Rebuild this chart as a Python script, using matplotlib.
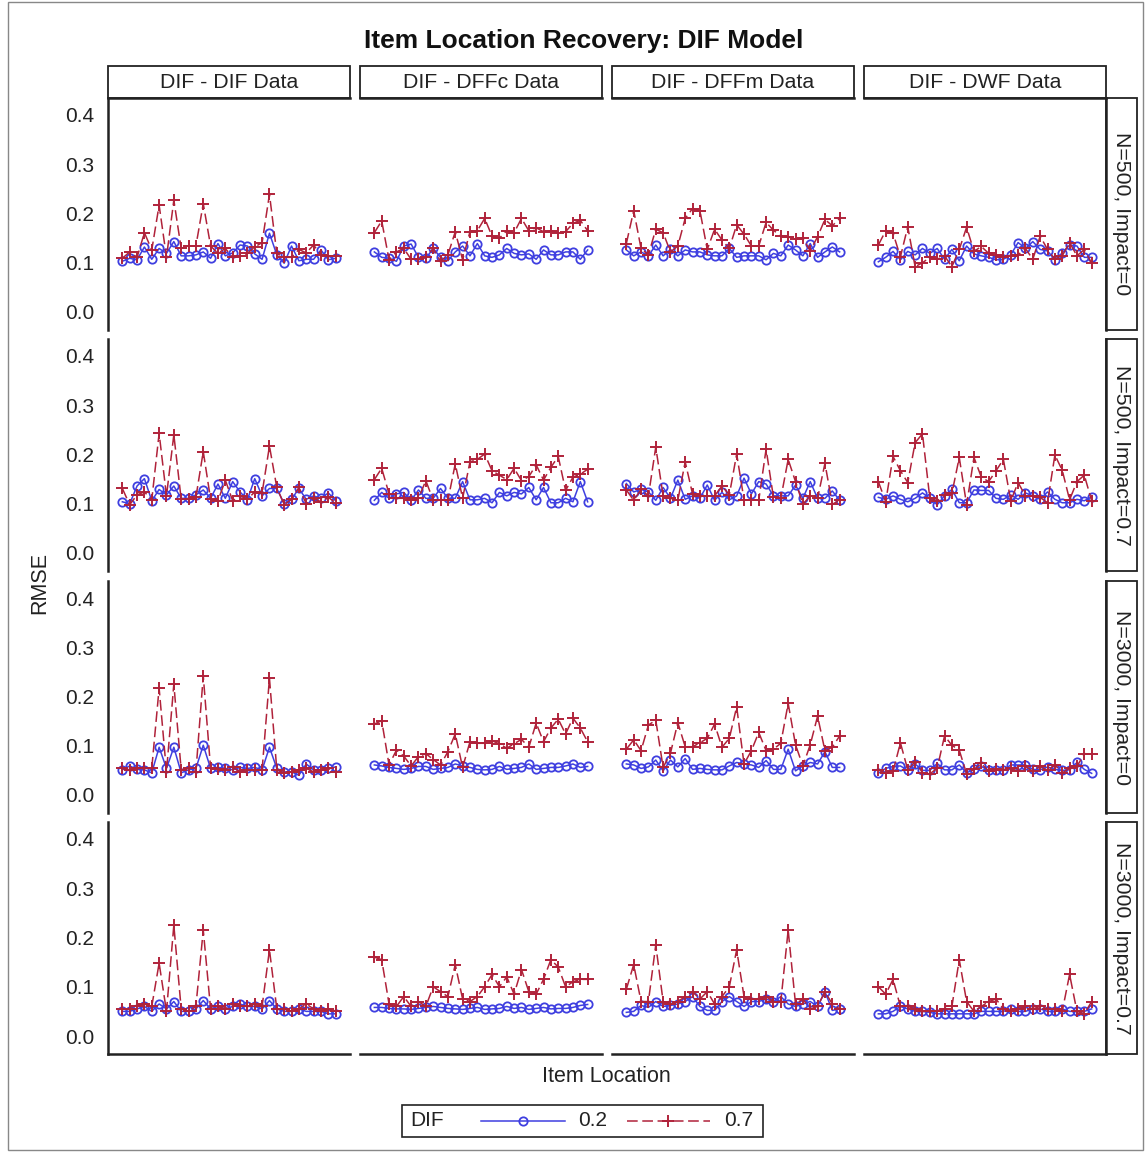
import matplotlib
matplotlib.use("Agg")
import matplotlib.pyplot as plt
from matplotlib.patches import Rectangle
from matplotlib.lines import Line2D
import numpy as np

# ---------------- data ----------------
col_labels = ["DIF - DIF Data", "DIF - DFFc Data", "DIF - DFFm Data", "DIF - DWF Data"]
row_labels = ["N=500, Impact=0", "N=500, Impact=0.7", "N=3000, Impact=0", "N=3000, Impact=0.7"]
y_ticks = [0.0, 0.1, 0.2, 0.3, 0.4]
y_tick_labels = ["0.0", "0.1", "0.2", "0.3", "0.4"]
items = list(range(1, 31))

# Row 1: N=500, Impact=0
r1_dif_02 = [0.103,0.109,0.106,0.132,0.107,0.129,0.119,0.143,0.114,0.114,0.116,0.122,0.109,0.139,0.114,0.120,0.136,0.134,0.118,0.107,0.160,0.116,0.099,0.134,0.104,0.107,0.107,0.126,0.106,0.109]
r1_dif_07 = [0.109,0.122,0.111,0.161,0.126,0.217,0.111,0.227,0.129,0.134,0.134,0.220,0.134,0.119,0.129,0.111,0.114,0.119,0.132,0.141,0.239,0.119,0.111,0.111,0.127,0.120,0.136,0.116,0.114,0.114]
r1_dffc_02 = [0.122,0.111,0.109,0.103,0.134,0.138,0.111,0.109,0.129,0.111,0.104,0.122,0.134,0.114,0.139,0.114,0.111,0.116,0.129,0.119,0.116,0.118,0.107,0.126,0.116,0.116,0.122,0.122,0.107,0.126]
r1_dffc_07 = [0.161,0.185,0.106,0.122,0.129,0.107,0.107,0.111,0.129,0.103,0.116,0.163,0.106,0.163,0.165,0.190,0.154,0.150,0.165,0.161,0.190,0.165,0.171,0.163,0.165,0.161,0.163,0.180,0.186,0.165]
r1_dffm_02 = [0.126,0.114,0.122,0.114,0.136,0.114,0.127,0.114,0.126,0.122,0.122,0.116,0.114,0.114,0.129,0.111,0.114,0.114,0.114,0.106,0.119,0.114,0.136,0.126,0.114,0.139,0.111,0.122,0.132,0.122]
r1_dffm_07 = [0.139,0.206,0.129,0.116,0.168,0.161,0.122,0.134,0.190,0.210,0.206,0.127,0.168,0.146,0.129,0.177,0.158,0.134,0.134,0.182,0.166,0.154,0.152,0.148,0.150,0.124,0.153,0.188,0.175,0.190]
r1_dwf_02 = [0.102,0.111,0.123,0.106,0.123,0.116,0.129,0.119,0.129,0.107,0.127,0.104,0.134,0.118,0.114,0.111,0.106,0.107,0.116,0.141,0.129,0.143,0.127,0.124,0.106,0.120,0.136,0.134,0.111,0.111]
r1_dwf_07 = [0.136,0.165,0.160,0.112,0.173,0.092,0.100,0.111,0.107,0.114,0.092,0.127,0.172,0.123,0.133,0.119,0.116,0.111,0.114,0.116,0.129,0.107,0.154,0.127,0.107,0.114,0.141,0.114,0.127,0.099]

# Row 2: N=500, Impact=0.7
r2_dif_02 = [0.104,0.100,0.136,0.151,0.106,0.129,0.118,0.136,0.111,0.111,0.118,0.128,0.111,0.140,0.111,0.145,0.124,0.108,0.151,0.116,0.131,0.131,0.100,0.109,0.131,0.109,0.116,0.111,0.122,0.106]
r2_dif_07 = [0.131,0.098,0.118,0.124,0.108,0.243,0.116,0.240,0.109,0.109,0.113,0.206,0.109,0.106,0.148,0.106,0.116,0.109,0.124,0.122,0.217,0.133,0.098,0.109,0.133,0.100,0.111,0.104,0.113,0.102]
r2_dffc_02 = [0.107,0.123,0.111,0.120,0.123,0.107,0.128,0.111,0.111,0.131,0.111,0.111,0.145,0.108,0.108,0.111,0.102,0.123,0.116,0.123,0.120,0.133,0.108,0.133,0.102,0.102,0.111,0.104,0.145,0.104]
r2_dffc_07 = [0.149,0.172,0.120,0.111,0.111,0.107,0.111,0.147,0.107,0.107,0.107,0.181,0.111,0.185,0.190,0.201,0.167,0.158,0.149,0.172,0.147,0.155,0.179,0.148,0.174,0.196,0.127,0.154,0.160,0.170]
r2_dffm_02 = [0.141,0.124,0.129,0.124,0.107,0.133,0.111,0.148,0.109,0.116,0.111,0.138,0.107,0.123,0.108,0.116,0.152,0.120,0.145,0.140,0.116,0.116,0.116,0.138,0.111,0.145,0.111,0.111,0.126,0.107]
r2_dffm_07 = [0.128,0.107,0.129,0.116,0.215,0.116,0.111,0.107,0.185,0.120,0.116,0.116,0.116,0.136,0.118,0.201,0.108,0.108,0.107,0.211,0.113,0.111,0.190,0.145,0.099,0.116,0.111,0.182,0.099,0.107]
r2_dwf_02 = [0.113,0.109,0.116,0.109,0.104,0.111,0.122,0.111,0.098,0.116,0.129,0.102,0.102,0.128,0.127,0.127,0.111,0.109,0.118,0.109,0.122,0.116,0.109,0.124,0.109,0.102,0.102,0.109,0.106,0.114]
r2_dwf_07 = [0.145,0.104,0.196,0.167,0.143,0.224,0.242,0.111,0.106,0.118,0.121,0.194,0.098,0.194,0.154,0.145,0.167,0.190,0.106,0.143,0.116,0.116,0.113,0.102,0.199,0.168,0.108,0.145,0.158,0.106]

# Row 3: N=3000, Impact=0
r3_dif_02 = [0.051,0.059,0.052,0.051,0.045,0.097,0.054,0.097,0.045,0.051,0.054,0.101,0.054,0.056,0.054,0.051,0.056,0.054,0.056,0.051,0.097,0.054,0.047,0.047,0.040,0.063,0.051,0.051,0.054,0.057]
r3_dif_07 = [0.054,0.051,0.054,0.054,0.054,0.217,0.047,0.225,0.051,0.054,0.047,0.242,0.054,0.052,0.051,0.056,0.047,0.051,0.051,0.051,0.237,0.051,0.045,0.047,0.051,0.054,0.047,0.051,0.054,0.047]
r3_dffc_02 = [0.061,0.059,0.056,0.054,0.052,0.054,0.058,0.058,0.052,0.054,0.056,0.063,0.059,0.056,0.052,0.051,0.052,0.058,0.052,0.054,0.056,0.063,0.052,0.054,0.056,0.056,0.059,0.063,0.056,0.058]
r3_dffc_07 = [0.144,0.151,0.061,0.091,0.079,0.059,0.078,0.084,0.072,0.061,0.088,0.124,0.056,0.108,0.105,0.105,0.110,0.104,0.095,0.104,0.113,0.097,0.146,0.108,0.136,0.154,0.124,0.156,0.136,0.108]
r3_dffm_02 = [0.063,0.061,0.054,0.057,0.071,0.049,0.071,0.057,0.074,0.052,0.054,0.052,0.051,0.051,0.059,0.066,0.063,0.061,0.056,0.070,0.052,0.052,0.093,0.049,0.059,0.066,0.063,0.088,0.056,0.056]
r3_dffm_07 = [0.093,0.112,0.090,0.142,0.152,0.056,0.085,0.147,0.098,0.098,0.106,0.115,0.144,0.097,0.115,0.179,0.063,0.090,0.127,0.090,0.093,0.105,0.186,0.102,0.059,0.102,0.160,0.090,0.097,0.120]
r3_dwf_02 = [0.044,0.054,0.058,0.059,0.050,0.063,0.050,0.050,0.064,0.051,0.051,0.061,0.045,0.052,0.058,0.050,0.051,0.050,0.061,0.061,0.061,0.052,0.051,0.057,0.052,0.050,0.051,0.066,0.052,0.044]
r3_dwf_07 = [0.051,0.044,0.048,0.106,0.051,0.068,0.045,0.043,0.054,0.120,0.101,0.091,0.043,0.052,0.064,0.048,0.052,0.051,0.054,0.048,0.058,0.048,0.058,0.050,0.061,0.045,0.054,0.058,0.084,0.083]

# Row 4: N=3000, Impact=0.7
r4_dif_02 = [0.050,0.050,0.055,0.060,0.050,0.065,0.055,0.070,0.050,0.050,0.055,0.072,0.055,0.060,0.055,0.060,0.065,0.060,0.060,0.055,0.072,0.055,0.050,0.050,0.055,0.050,0.050,0.050,0.045,0.045]
r4_dif_07 = [0.055,0.055,0.060,0.065,0.060,0.148,0.050,0.225,0.055,0.050,0.060,0.215,0.055,0.060,0.055,0.065,0.060,0.060,0.065,0.060,0.175,0.055,0.055,0.050,0.055,0.065,0.055,0.050,0.055,0.050]
r4_dffc_02 = [0.058,0.058,0.056,0.055,0.055,0.054,0.056,0.058,0.060,0.058,0.056,0.055,0.054,0.056,0.058,0.054,0.055,0.056,0.060,0.056,0.058,0.054,0.056,0.058,0.055,0.056,0.056,0.058,0.062,0.064]
r4_dffc_07 = [0.160,0.155,0.065,0.060,0.080,0.060,0.070,0.060,0.100,0.090,0.080,0.145,0.075,0.070,0.080,0.100,0.125,0.100,0.120,0.085,0.135,0.090,0.085,0.115,0.155,0.140,0.100,0.110,0.115,0.115]
r4_dffm_02 = [0.048,0.050,0.062,0.058,0.070,0.060,0.062,0.065,0.070,0.080,0.060,0.052,0.052,0.070,0.080,0.070,0.060,0.070,0.070,0.075,0.070,0.080,0.065,0.060,0.065,0.070,0.060,0.090,0.052,0.055]
r4_dffm_07 = [0.095,0.145,0.070,0.070,0.185,0.070,0.065,0.070,0.080,0.090,0.075,0.090,0.065,0.080,0.100,0.175,0.080,0.075,0.075,0.080,0.070,0.070,0.215,0.065,0.075,0.055,0.060,0.090,0.065,0.055]
r4_dwf_02 = [0.045,0.045,0.050,0.060,0.055,0.050,0.050,0.048,0.045,0.045,0.045,0.045,0.045,0.045,0.050,0.050,0.050,0.050,0.055,0.050,0.050,0.055,0.055,0.050,0.050,0.055,0.050,0.050,0.050,0.055]
r4_dwf_07 = [0.100,0.085,0.115,0.060,0.060,0.055,0.050,0.050,0.050,0.055,0.060,0.155,0.070,0.050,0.060,0.070,0.075,0.055,0.050,0.055,0.060,0.055,0.060,0.055,0.055,0.050,0.125,0.050,0.045,0.070]

grid_02 = [[r1_dif_02, r1_dffc_02, r1_dffm_02, r1_dwf_02],
           [r2_dif_02, r2_dffc_02, r2_dffm_02, r2_dwf_02],
           [r3_dif_02, r3_dffc_02, r3_dffm_02, r3_dwf_02],
           [r4_dif_02, r4_dffc_02, r4_dffm_02, r4_dwf_02]]
grid_07 = [[r1_dif_07, r1_dffc_07, r1_dffm_07, r1_dwf_07],
           [r2_dif_07, r2_dffc_07, r2_dffm_07, r2_dwf_07],
           [r3_dif_07, r3_dffc_07, r3_dffm_07, r3_dwf_07],
           [r4_dif_07, r4_dffc_07, r4_dffm_07, r4_dwf_07]]

# ---------------- layout ----------------
plt.rcParams['font.family'] = ['Liberation Sans', 'DejaVu Sans']
W, H = 1145, 1152
fig = plt.figure(figsize=(W / 100, H / 100), dpi=100)

BLUE = '#3f3fe0'
RED = '#b0223a'
AXC = '#222222'
TXT = '#222222'

def fx(x):
    return x / W

def fy(y):
    return 1 - y / H

col_x = [108, 360, 612, 864]
col_w = 242
row_y = [98, 339, 581, 822]
row_h = 232
ppx = 0.4 / 197.0
ylo = -(row_h - 214) * ppx
yhi = 0.4 + 17 * ppx

for r in range(4):
    for c in range(4):
        x0, y0 = col_x[c], row_y[r]
        ax = fig.add_axes([fx(x0), fy(y0 + row_h), col_w / W, row_h / H])
        ax.set_facecolor('none')
        ax.plot(items, grid_02[r][c], color=BLUE, lw=1.1, marker='o', ms=6,
                mfc='none', mec=BLUE, mew=1.3)
        ax.plot(items, grid_07[r][c], color=RED, lw=1.1, ls=(0, (7, 3)), marker='+',
                ms=8, mec=RED, mew=1.4)
        ax.set_xlim(1 - 1.95, 30 + 1.95)
        ax.set_ylim(ylo, yhi)
        for s in ax.spines.values():
            s.set_visible(False)
        ax.set_xticks([])
        if c == 0:
            ax.spines['left'].set_visible(True)
            ax.spines['left'].set_linewidth(1.8)
            ax.spines['left'].set_color(AXC)
            ax.set_yticks(y_ticks)
            ax.set_yticklabels(y_tick_labels)
            ax.tick_params(axis='y', length=0, pad=10, labelsize=15, labelcolor=TXT)
        else:
            ax.set_yticks([])
        if r == 3:
            ax.spines['bottom'].set_visible(True)
            ax.spines['bottom'].set_linewidth(1.8)
            ax.spines['bottom'].set_color(AXC)

# column strips
for c in range(4):
    x0 = col_x[c]
    fig.patches.append(Rectangle((fx(x0), fy(98)), col_w / W, 32 / H, transform=fig.transFigure,
                                 fill=False, edgecolor=AXC, lw=1.3))
    fig.add_artist(Line2D([fx(x0), fx(x0 + col_w)], [fy(98), fy(98)], transform=fig.transFigure,
                          color=AXC, lw=1.8))
    fig.text(fx(x0 + col_w / 2), fy(82), col_labels[c], ha='center', va='center',
             fontsize=15.3, color=TXT)

# row strips
for r in range(4):
    y0 = row_y[r]
    fig.patches.append(Rectangle((fx(1106), fy(y0 + row_h)), 31 / W, row_h / H,
                                 transform=fig.transFigure, fill=False, edgecolor=AXC, lw=1.3))
    fig.add_artist(Line2D([fx(1106), fx(1106)], [fy(y0), fy(y0 + row_h)], transform=fig.transFigure,
                          color=AXC, lw=1.8))
    fig.text(fx(1122), fy(y0 + row_h / 2), row_labels[r], ha='center', va='center',
             rotation=270, fontsize=15.3, color=TXT)

# title and axis labels
fig.text(fx(584), fy(41), "Item Location Recovery: DIF Model", ha='center', va='center',
         fontsize=19, fontweight='bold', color='#111111')
fig.text(fx(40), fy(583), "RMSE", ha='center', va='center', rotation=90, fontsize=15.5,
         color=TXT)
fig.text(fx(606), fy(1076), "Item Location", ha='center', va='center', fontsize=15.5,
         color=TXT)

# legend
fig.patches.append(Rectangle((fx(402), fy(1137)), (763 - 402) / W, 32 / H, transform=fig.transFigure,
                             fill=False, edgecolor=AXC, lw=1.2))
fig.text(fx(410), fy(1121), "DIF", ha='left', va='center', fontsize=15, color=TXT)
fig.add_artist(Line2D([fx(481), fx(565)], [fy(1121), fy(1121)], transform=fig.transFigure,
                      color=BLUE, lw=1.1))
fig.add_artist(Line2D([fx(523)], [fy(1121)], transform=fig.transFigure, color=BLUE, marker='o',
                      ms=6, mfc='none', mec=BLUE, mew=1.3, ls='none'))
fig.text(fx(578), fy(1121), "0.2", ha='left', va='center', fontsize=15, color=TXT)
fig.add_artist(Line2D([fx(627), fx(710)], [fy(1121), fy(1121)], transform=fig.transFigure,
                      color=RED, lw=1.1, ls=(0, (7, 3))))
fig.add_artist(Line2D([fx(668)], [fy(1121)], transform=fig.transFigure, color=RED, marker='+',
                      ms=8, mec=RED, mew=1.4, ls='none'))
fig.text(fx(724), fy(1121), "0.7", ha='left', va='center', fontsize=15, color=TXT)

# outer border
fig.patches.append(Rectangle((fx(8), fy(1150)), (1143 - 8) / W, 1148 / H, transform=fig.transFigure,
                             fill=False, edgecolor='#888888', lw=1.0))

fig.savefig("out.png", dpi=100)
